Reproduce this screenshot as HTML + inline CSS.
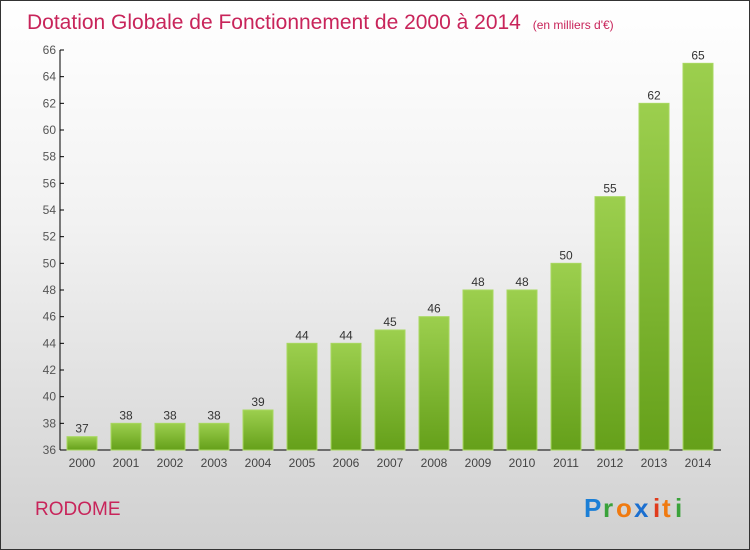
<!DOCTYPE html>
<html><head><meta charset="utf-8"><style>
body{margin:0}
#c{position:relative;width:748px;height:548px;border:1px solid #333;background:linear-gradient(#ffffff,#f2f2f2 40%,#d0d0d0);overflow:hidden;font-family:"Liberation Sans",sans-serif}
</style></head><body>
<div id="c">
<svg width="748" height="548" style="position:absolute;left:0;top:0" id="svg">
<defs><linearGradient id="g" x1="0" y1="0" x2="0" y2="1"><stop offset="0" stop-color="#9ccf4e"/><stop offset="1" stop-color="#65a01a"/></linearGradient></defs>
<text x="26" y="28" font-size="21" fill="#c8245a">Dotation Globale de Fonctionnement de 2000 à 2014 <tspan font-size="12" dx="6">(en milliers d'€)</tspan></text>
<text x="34" y="514" font-size="19" fill="#c8245a">RODOME</text>
<g font-size="26" font-weight="bold">
<text x="583" y="516" fill="#1b7fd6">P</text><text x="602" y="516" fill="#3aa23a">r</text><text x="615" y="516" fill="#f07a10">o</text><text x="633" y="516" fill="#1b6fd0">x</text><text x="652" y="516" fill="#e03b1c">i</text><text x="661" y="516" fill="#f07a10">t</text><text x="674" y="516" fill="#3aa23a">i</text>
</g>
<g id="axes"></g><g id="bars"></g>
</svg>
</div>
<script>
const years=["2000","2001","2002","2003","2004","2005","2006","2007","2008","2009","2010","2011","2012","2013","2014"];
const values=[37,38,38,38,39,44,44,45,46,48,48,50,55,62,65];
const yTicks=[36,38,40,42,44,46,48,50,52,54,56,58,60,62,64,66];
const NS="http://www.w3.org/2000/svg";
const y=v=>449-(v-36)*(400/30);
const x=i=>81+i*44;
function mk(t,a,p){const e=document.createElementNS(NS,t);for(const k in a)e.setAttribute(k,a[k]);p.appendChild(e);return e;}
const ax=document.getElementById('axes'),bs=document.getElementById('bars');
const yl=mk('line',{x1:59,y1:49,x2:59,y2:449,stroke:'#000'},ax);


const xl=mk('line',{x1:59,y1:449,x2:720,y2:449,stroke:'#000'},ax);


yTicks.forEach(v=>{
 mk('line',{x1:59,x2:63,y1:y(v),y2:y(v),stroke:'#000'},ax);
 const t=mk('text',{x:55,y:y(v)+4,'text-anchor':'end','font-size':12,fill:'#555'},ax);t.textContent=v;
 
 
});
years.forEach((yr,i)=>{
 const v=values[i];
 const r=mk('rect',{x:x(i)-15,y:y(v),width:30,height:449-y(v),fill:'url(#g)',stroke:'#a8d860','stroke-width':1},bs);
 
 
 const l=mk('text',{x:x(i),y:y(v)-4,'text-anchor':'middle','font-size':12,fill:'#333'},bs);l.textContent=v;
 
 
 const t=mk('text',{x:x(i),y:466,'text-anchor':'middle','font-size':12,fill:'#444'},ax);t.textContent=yr;
 
 
});
</script>
</body></html>
